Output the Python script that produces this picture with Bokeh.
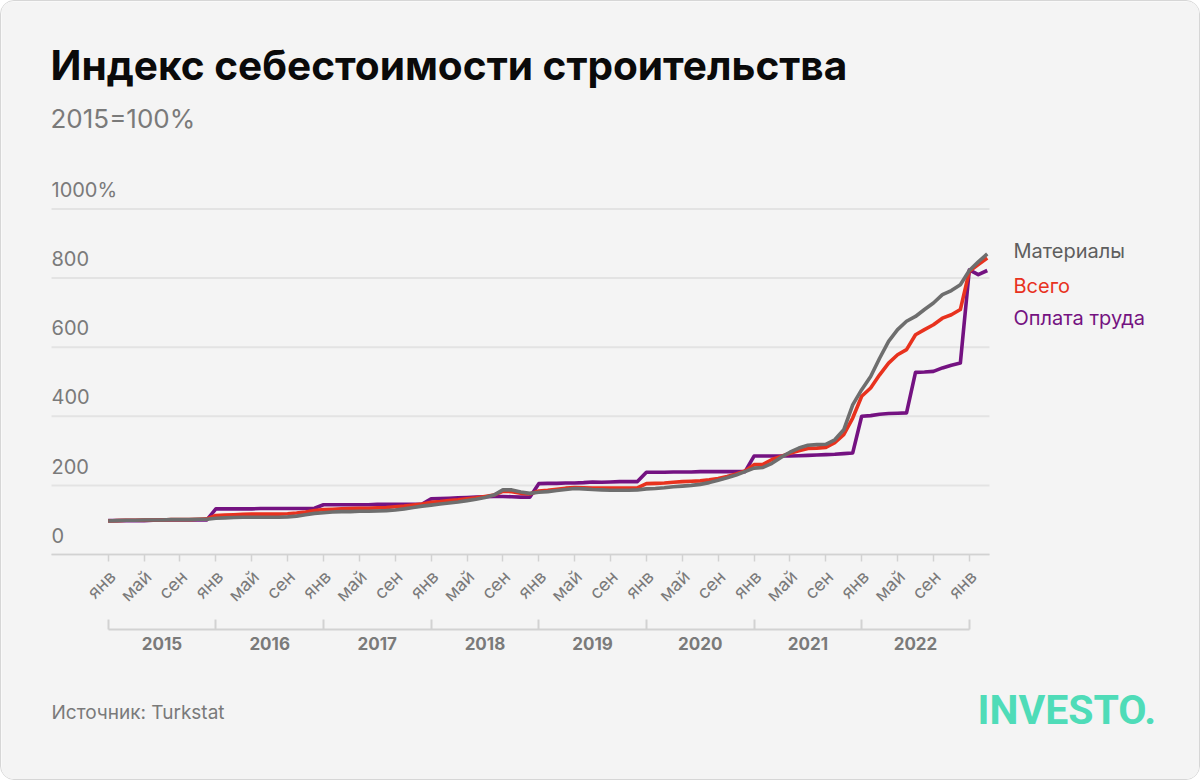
import math
from bokeh.plotting import figure
from bokeh.models import (FixedTicker, LinearAxis, Label, Range1d, ColumnDataSource)
from bokeh.core.properties import value
from bokeh.embed import file_html
from bokeh.resources import INLINE

# ---------------- data ----------------
title_text = "Индекс себестоимости строительства"
subtitle_text = "2015=100%"
source_text = "Источник: Turkstat"
logo_text = "INVESTO."

month_index = list(range(99))          # Jan 2015 .. Mar 2023
month_names = ["янв", "май", "сен"]     # labels every 4 months
year_labels = ["2015", "2016", "2017", "2018", "2019", "2020", "2021", "2022"]
yticks = [0, 200, 400, 600, 800, 1000]
ytick_labels = ["0", "200", "400", "600", "800", "1000%"]

series_names = ["Материалы", "Всего", "Оплата труда"]

materials = [
    97, 98, 99, 99, 100, 100, 100, 101, 101, 101, 102, 102,
    105, 106, 107, 108, 108, 108, 108, 108, 109, 111, 115, 119,
    121, 123, 124, 124, 125, 125, 126, 127, 129, 132, 136, 140,
    143, 146, 149, 152, 156, 160, 165, 172, 187, 187, 181, 177,
    180, 182, 185, 188, 191, 190, 188, 187, 186, 186, 186, 187,
    190, 191, 193, 196, 198, 200, 203, 208, 215, 222, 230, 240,
    250, 252, 264, 281, 296, 308, 316, 318, 319, 332, 361, 433,
    477, 515, 568, 617, 651, 675, 689, 709, 728, 752, 764, 781,
    822, 847, 870]

total = [
    97, 98, 99, 99, 100, 100, 100, 101, 101, 101, 102, 103,
    113, 114, 115, 116, 117, 117, 117, 117, 118, 120, 123, 127,
    130, 131, 132, 133, 134, 134, 135, 136, 138, 140, 143, 146,
    151, 153, 156, 158, 161, 164, 168, 172, 183, 182, 177, 175,
    184, 186, 189, 192, 194, 193, 192, 192, 192, 192, 192, 193,
    205, 206, 207, 209, 211, 212, 213, 216, 220, 226, 233, 242,
    260, 261, 275, 284, 293, 300, 307, 308, 310, 324, 347, 395,
    458, 482, 520, 554, 578, 593, 636, 651, 665, 684, 694, 709,
    820, 839, 858]

labor = [
    98, 98, 98, 98, 98, 99, 100, 100, 100, 100, 100, 100,
    132, 132, 132, 132, 132, 133, 133, 133, 133, 133, 133, 134,
    144, 144, 144, 144, 144, 144, 145, 145, 145, 145, 145, 146,
    161, 162, 163, 164, 165, 166, 167, 168, 168, 167, 166, 166,
    205, 206, 206, 207, 207, 208, 210, 209, 210, 211, 211, 211,
    238, 238, 238, 239, 239, 239, 240, 240, 240, 240, 240, 240,
    285, 285, 285, 285, 285, 286, 287, 288, 289, 290, 292, 294,
    400, 402, 406, 408, 409, 410, 527, 528, 530, 540, 548, 554,
    824, 810, 822]

# ---------------- style / geometry ----------------
BG = "#f4f4f4"
C_MAT = "#6e6e6e"
C_TOT = "#e8321e"
C_LAB = "#741281"
C_TXT = "#7a7a7a"
C_AX = "#d2d2d2"
FONT = "Inter"

W, H = 1200, 780
X_PX0, PX_PER_M = 106.7, 8.970     # pixel of month 0, pixels per month
Y_PX0, PX_PER_U = 553.0, 0.3455    # pixel of value 0, pixels per unit
BASE_FIX = 0.42                    # baseline correction (fraction of font size)


def rx(px):
    return (px - X_PX0) / PX_PER_M


def ry(py):
    return (Y_PX0 - py) / PX_PER_U


def text_y(baseline_px, size):
    return ry(baseline_px - BASE_FIX * size)


p = figure(width=W, height=H, output_backend="svg", toolbar_location=None,
           x_range=Range1d(rx(0), rx(W)), y_range=Range1d(ry(H), ry(0)),
           x_axis_type=None, y_axis_type=None,
           min_border_left=0, min_border_right=0,
           min_border_top=0, min_border_bottom=0, title=None)
p.background_fill_color = BG
p.border_fill_color = BG
p.outline_line_color = None
p.styles = {"border-radius": "14px", "overflow": "hidden",
            "border": "1px solid #d6d6d6", "box-sizing": "border-box"}

X_L, X_R = rx(50), rx(988)

# horizontal grid lines
p.segment(x0=[X_L] * len(yticks), x1=[X_R] * len(yticks), y0=yticks, y1=yticks,
          line_color="#e3e3e3", line_width=2)

# y tick labels above the grid lines
ysrc = ColumnDataSource(dict(x=[X_L] * len(yticks), y=yticks, t=ytick_labels))
p.text(x="x", y="y", text="t", source=ysrc,
       y_offset=-(11 + BASE_FIX * 20),
       text_font=value(FONT), text_font_size="20px", text_color=C_TXT,
       text_align="left", text_baseline="alphabetic")

# month axis: ticks + line
tick_pos = list(range(0, 97, 4))
xa = LinearAxis(ticker=FixedTicker(ticks=tick_pos, minor_ticks=[]),
                fixed_location=0, bounds=(X_L, X_R))
xa.axis_line_color = C_AX
xa.axis_line_width = 1.5
xa.major_tick_line_color = C_AX
xa.major_tick_line_width = 1.5
xa.major_tick_in = 0
xa.major_tick_out = 7
xa.minor_tick_line_color = None
xa.major_label_text_font_size = "0px"
xa.major_label_text_color = None
p.add_layout(xa, "below")

# month axis: rotated labels (centred on their ticks)
LAB_SHIFT = 0.45
lab_pos = [t + LAB_SHIFT for t in tick_pos]
xl = LinearAxis(ticker=FixedTicker(ticks=lab_pos, minor_ticks=[]),
                fixed_location=0,
                major_label_overrides={lp: month_names[(t // 4) % 3]
                                       for lp, t in zip(lab_pos, tick_pos)})
xl.axis_line_color = None
xl.major_tick_line_color = None
xl.minor_tick_line_color = None
xl.major_tick_in = 0
xl.major_tick_out = 7
xl.major_label_orientation = math.pi / 4
xl.major_label_standoff = 12
xl.major_label_text_font = FONT
xl.major_label_text_font_size = "18px"
xl.major_label_text_color = C_TXT
p.add_layout(xl, "below")

# year bracket axis
centers = [6 + 12 * k for k in range(len(year_labels))]
bounds_t = [12 * k for k in range(len(year_labels) + 1)]
ya = LinearAxis(ticker=FixedTicker(ticks=centers, minor_ticks=bounds_t),
                major_label_overrides={c: lab for c, lab in zip(centers, year_labels)},
                bounds=(0, 96), fixed_location=ry(628))
ya.axis_line_color = C_AX
ya.axis_line_width = 2
ya.major_tick_line_color = None
ya.major_tick_in = 0
ya.major_tick_out = 0
ya.minor_tick_line_color = C_AX
ya.minor_tick_line_width = 2
ya.minor_tick_in = 10
ya.minor_tick_out = 0
ya.major_label_standoff = 7
ya.major_label_text_font = FONT
ya.major_label_text_font_style = "bold"
ya.major_label_text_font_size = "17px"
ya.major_label_text_color = C_TXT
p.add_layout(ya, "below")

# series
for vals, col in [(labor, C_LAB), (total, C_TOT), (materials, C_MAT)]:
    p.line(month_index, vals, line_width=3.6, line_color=col, line_join="round")

# legend texts
for name, col, by in zip(series_names, ["#5e5e5e", C_TOT, C_LAB], [258, 293, 325]):
    p.add_layout(Label(x=rx(1012), y=text_y(by, 20), text=name, text_color=col,
                       text_font=FONT, text_font_size="20px",
                       text_baseline="alphabetic", text_align="left"))

# title / subtitle / source / logo
p.add_layout(Label(x=rx(49), y=text_y(81, 40.6), text=title_text, text_color="#0a0a0a",
                   text_font=FONT, text_font_style="bold", text_font_size="40.6px",
                   text_baseline="alphabetic"))
p.add_layout(Label(x=rx(49), y=text_y(128, 26), text=subtitle_text, text_color=C_TXT,
                   text_font=FONT, text_font_size="26px",
                   text_baseline="alphabetic"))
p.add_layout(Label(x=rx(50), y=text_y(719, 19), text=source_text, text_color=C_TXT,
                   text_font=FONT, text_font_size="19px",
                   text_baseline="alphabetic"))
p.add_layout(Label(x=rx(976), y=text_y(726, 41), text=logo_text, text_color="#4fdcb8",
                   text_font="Roboto", text_font_style="bold",
                   text_font_size="41px", text_baseline="alphabetic"))

open("out.html", "w").write(file_html(p, INLINE))
